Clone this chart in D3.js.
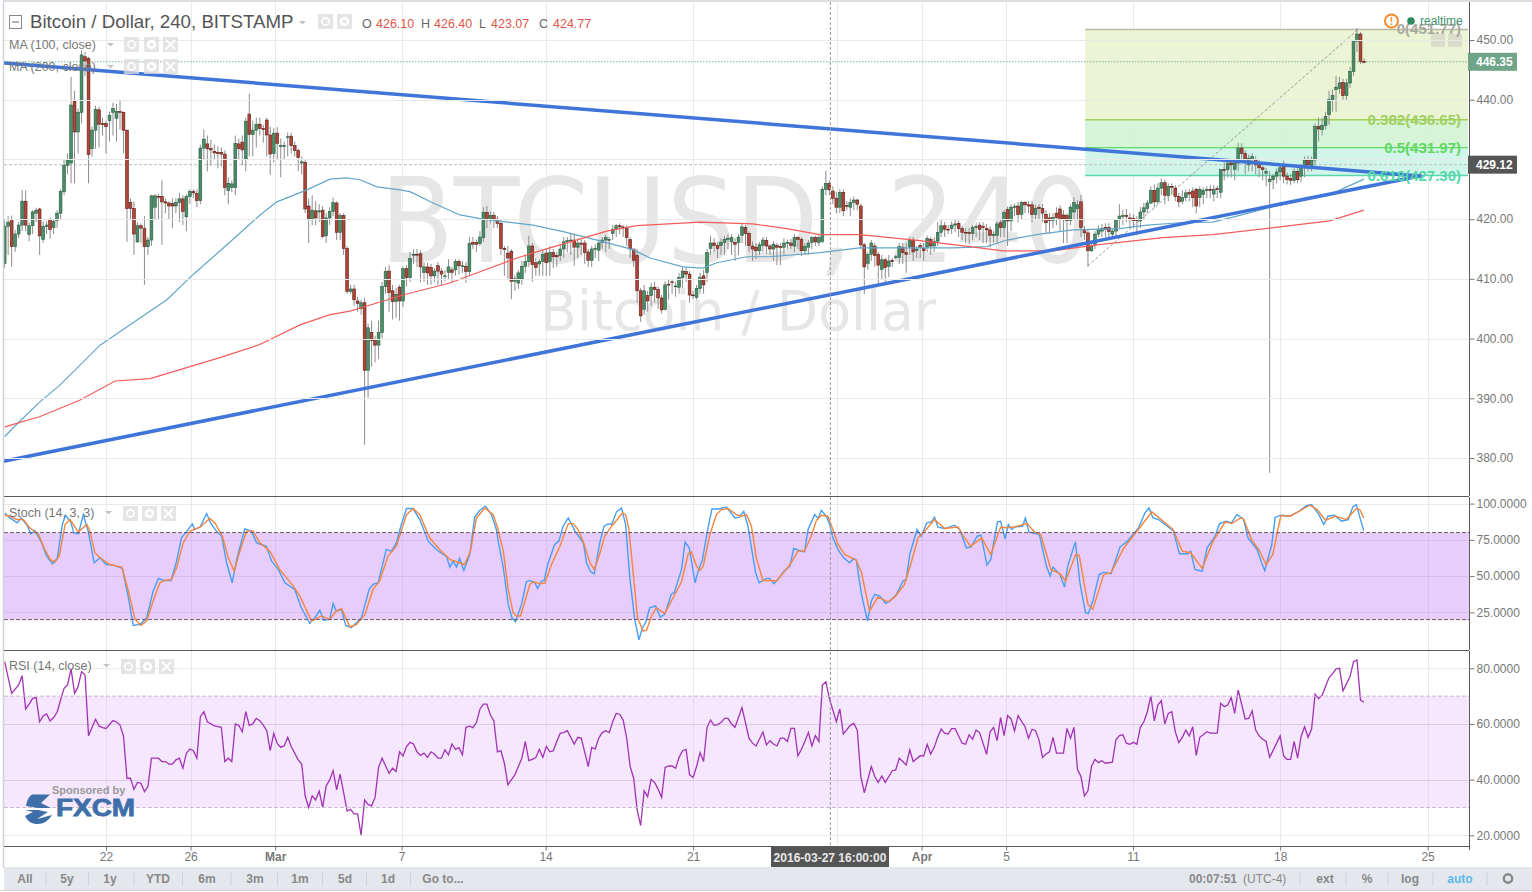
<!DOCTYPE html>
<html><head><meta charset="utf-8">
<style>html,body{margin:0;padding:0;background:#fff;overflow:hidden}svg{display:block}text{font-family:"Liberation Sans",Arial,sans-serif}</style>
<script src="https://cdn.jsdelivr.net/npm/d3@7/dist/d3.min.js"></script></head><body><svg id="c" width="1532" height="892"></svg>
<script>
const opens=[412.6,418.8,419.9,415.4,417.5,419.0,423.0,417.4,418.9,421.0,421.7,416.6,418.8,419.9,418.6,419.8,421.0,424.6,429.0,429.4,439.7,434.6,437.9,447.2,446.9,431.8,434.9,438.3,436.0,436.0,436.5,437.9,436.9,438.0,437.9,434.9,422.8,421.8,416.2,418.9,418.4,415.4,416.5,422.0,423.8,423.8,422.9,422.7,422.6,422.2,422.8,423.4,420.4,423.8,424.6,424.3,423.1,431.9,432.6,431.8,431.3,431.2,431.2,430.9,424.8,425.3,425.3,432.6,432.9,430.1,437.6,434.2,434.9,435.9,435.2,436.6,434.1,431.0,434.4,432.2,432.2,433.7,433.9,432.3,431.5,429.4,429.5,422.2,420.0,421.4,421.2,421.5,417.2,420.2,421.3,422.7,417.8,420.6,415.1,407.9,408.3,
406.3,405.0,406.0,394.7,401.0,399.7,398.9,401.0,408.7,411.3,408.0,406.2,408.6,406.3,411.7,410.2,414.0,414.1,414.2,411.1,412.0,411.9,410.5,412.2,411.3,410.4,411.1,411.5,411.5,412.9,412.1,412.1,411.2,416.1,416.1,415.9,416.9,421.1,420.1,420.6,420.0,419.3,415.1,414.3,414.6,409.6,409.3,410.0,412.1,412.9,415.5,412.7,412.5,412.9,414.3,412.9,414.4,413.9,413.9,415.0,416.2,416.4,416.5,415.3,416.0,416.0,414.5,413.1,415.0,414.8,416.1,416.5,416.6,417.6,418.3,418.9,418.7,418.4,416.6,415.0,413.9,408.0,404.9,407.2,407.2,408.6,408.2,406.8,404.9,409.1,409.5,408.7,408.6,410.2,411.2,410.8,407.3,406.9,408.4,410.5,411.1,415.1,416.0,415.6,415.6,416.1,416.6,416.2,416.1,416.1,417.3,418.6,417.6,
415.5,415.3,414.7,415.6,416.4,415.5,415.0,415.6,415.4,415.3,416.0,416.0,415.5,416.9,416.6,414.7,415.3,416.1,416.9,416.1,416.3,425.0,426.0,424.7,423.5,422.0,424.5,422.3,422.0,422.8,423.2,422.2,415.7,412.6,414.1,415.5,414.1,411.6,413.2,412.1,413.1,413.7,413.6,415.3,414.4,415.4,416.5,414.7,415.6,415.1,415.3,416.6,415.5,416.3,417.8,418.9,418.3,418.4,419.0,419.3,418.4,417.8,417.8,417.6,418.6,419.0,418.8,418.4,418.2,417.3,417.3,419.4,418.6,421.6,419.7,422.0,422.2,420.8,422.8,422.4,422.4,420.8,422.0,421.8,420.8,420.2,419.8,421.0,421.7,420.7,420.6,419.8,421.2,421.8,422.9,
418.3,417.7,414.7,415.8,417.5,418.0,418.6,418.6,417.5,418.0,419.9,420.5,420.6,420.2,420.1,419.9,419.7,421.2,421.8,422.7,424.8,422.9,425.2,426.1,424.0,425.5,425.2,423.8,423.0,423.6,424.5,424.7,425.0,423.6,424.1,424.8,425.0,424.2,425.1,424.5,428.3,428.3,429.4,428.3,429.4,431.9,431.0,429.1,430.0,430.0,429.1,428.6,427.7,426.3,426.6,427.2,427.9,428.9,427.2,426.8,426.5,428.0,427.2,428.6,429.9,429.0,429.9,435.5,435.0,435.7,437.5,440.0,441.7,441.9,442.9,440.7,442.8,444.7,449.8,451.0,446.4];
const closes=[418.8,419.5,415.4,417.5,419.0,423.0,419.0,418.9,421.2,421.5,417.2,418.8,419.0,418.3,419.6,421.0,424.6,429.0,429.9,439.1,434.6,437.9,447.5,446.5,430.8,434.9,438.4,435.9,435.9,435.5,437.4,438.5,438.0,437.9,434.9,421.8,421.8,417.5,418.9,418.5,415.4,416.5,423.9,423.9,423.7,422.9,422.7,422.2,422.2,422.8,423.4,421.3,423.8,424.6,424.4,423.1,431.9,433.4,431.8,431.6,431.1,431.0,430.9,425.3,426.0,425.9,432.7,431.8,431.6,436.4,434.2,434.9,435.9,435.2,435.0,434.1,430.9,434.4,432.7,432.3,432.3,433.8,432.3,431.5,430.3,429.6,421.7,420.0,421.5,420.2,421.4,417.1,420.2,421.3,422.8,417.8,420.6,415.1,407.9,408.3,406.5,
405.9,406.0,394.7,401.8,399.7,398.9,401.0,408.7,411.2,407.7,406.2,407.4,406.3,411.7,410.2,413.4,414.1,414.0,412.0,412.0,411.0,410.5,411.3,411.3,410.8,410.5,412.0,411.1,412.9,412.2,412.2,411.2,415.9,415.8,415.8,417.0,421.1,420.1,420.6,420.0,419.3,415.1,414.9,413.5,409.6,410.0,411.0,412.1,412.9,415.5,412.4,411.9,412.9,414.1,412.7,414.4,413.7,413.7,415.0,416.2,416.4,416.5,415.3,416.0,415.8,414.4,413.1,415.0,415.1,416.0,416.5,416.9,416.6,418.3,418.9,418.7,418.6,416.9,415.0,413.1,408.0,403.8,408.0,406.3,408.6,408.2,406.8,404.8,409.0,409.0,409.4,408.8,410.2,411.3,410.8,407.3,407.2,408.4,410.2,409.0,414.4,416.0,415.6,415.1,416.1,416.6,416.8,416.9,415.8,417.0,418.7,417.6,415.6,
415.0,414.7,415.7,416.5,415.5,415.0,415.8,415.3,415.3,416.0,416.1,415.6,416.9,416.6,414.7,415.4,416.0,416.9,416.2,416.9,425.0,426.0,424.9,423.5,422.0,424.5,421.4,422.2,422.8,423.2,422.5,415.7,412.0,414.1,416.0,413.9,412.3,413.2,411.9,413.0,412.9,413.7,415.4,414.4,414.1,416.5,414.5,415.0,415.3,414.7,416.8,415.5,416.3,417.8,418.9,418.3,418.2,419.0,419.2,418.4,417.8,417.7,417.6,418.6,418.8,418.3,418.6,418.2,417.3,417.4,419.2,418.6,421.1,419.7,422.0,422.1,420.8,422.8,422.4,422.2,420.8,421.8,421.8,421.0,419.4,419.8,420.3,420.3,420.0,420.0,419.8,422.0,422.8,422.4,418.6,
417.7,414.7,415.4,417.5,418.3,418.4,418.3,417.9,418.0,419.9,420.5,420.6,420.5,419.9,419.8,419.8,421.2,421.9,422.7,424.8,422.9,425.2,426.1,424.0,425.5,425.3,423.8,422.9,423.6,424.4,424.2,423.6,422.2,425.0,424.8,425.0,424.8,425.0,425.0,428.3,428.2,429.4,429.1,429.4,431.9,431.0,430.0,430.2,430.5,429.1,428.6,428.3,428.0,426.7,427.2,427.9,428.6,427.2,426.6,426.5,428.0,426.6,428.6,429.9,429.1,429.9,435.5,435.1,435.7,437.2,440.0,440.7,442.1,442.8,440.7,442.8,444.7,449.8,451.0,446.4,446.35];
const highs=[420,420.5,420.6,418.2,419.5,424.9,424.8,419.5,421.5,421.9,421.9,419.6,419.6,420.3,420,421.5,425,430,431,443.8,441.5,438.5,448.3,448,447.2,435.5,439,438.8,437,436.5,438,439.5,439.3,440,438,435,423.5,423,419.5,419.3,420.5,417,424,424.2,424.2,426.5,423.5,423,423.5,423.5,424.4,424,424.2,425,425,425,432.5,435,434,433.3,432.5,432.2,432,431.5,427,426.5,434,433.5,434,437,441,436.5,437,437,435.8,437,435.5,435.3,435.4,433.5,433,434.5,434.5,433,431.8,430.5,430,423.5,424,423,422.5,422.2,421,422,423.6,423,421,421,415.5,409,409,
407,406.5,406.8,402.5,403,400.5,403,409.5,412,412.3,409,408.5,409,412,412.3,414.5,415,415,414.8,412.8,412.7,412.5,411.8,412.8,411.8,411.5,413.3,412,413.3,413.3,413,412.8,417,417,416.6,418,422,422.2,421.3,421.2,420.5,420,415.5,415.5,415,410.6,411.5,413,414,417.2,416,413.5,413.3,414.8,415,415.5,415,414.5,415.7,417,417,417.5,417.6,416.8,416.6,416.5,415,415.5,415.8,416.6,417,417.4,417,419,419.2,419.3,419,419,417,415,415,408.5,409,408,409.3,409.5,408.7,407.3,409.6,410,410,409.5,411,412,412,411.3,408,409,411,411.5,415,417.2,416.8,416.2,416.8,417.2,417.5,417.5,416.8,417.5,419.2,419,418,
416.3,416,416.2,417,417,415.8,416.3,416,416,416.8,416.6,416.7,417.5,417.2,417,416,416.5,417.2,417.2,417.3,425.5,428.1,426.5,425.5,424.5,425,425,423,423.5,423.8,423.4,422.6,416,414.5,416.5,416,414.5,414,413.5,414,413.5,414,416,416,416,417,417,415.5,416,416,417.2,417,417,419.5,420,419.5,419,419.6,419.9,419.8,418.9,418.5,418.5,419,419.3,419.5,419.5,419.2,418.8,418,419.7,420,421.5,422.1,422.5,422.6,422.9,423,423,423,423,422.4,422.5,422.5,421.5,421,421,422,422.3,421.5,421,422.5,423.7,423.2,424,
418.8,418.2,416,418,419,419.2,419.3,419.3,418.5,420,422.5,421.5,421.7,421,420.8,420.5,422,422.7,423.2,425.5,425.8,426,426.8,426.6,426,426,425.7,424.4,424.8,425,425,425.3,425.3,425.5,425.3,425.5,425.7,425.7,425.6,425,429.5,429.8,430,430,432.8,432.7,431.5,430.8,431,430.5,430,429,428.6,428,427.5,428.5,429,429.8,427.8,427.5,428.5,428.5,429,430.5,430.6,430.5,436,437,437,438,441.5,441.7,444,443.8,443.5,443.5,445.5,450,452,451.3,446.9];
const lows=[411.8,414,412,414.5,416.8,418,418,416.3,417.5,419.5,414,416,417.5,416.7,417.5,418.5,420,424,427.5,426,426,431,436,444,426,430.5,431.8,432,434,431,433,434,433,435,431,416.2,420,414,416,416,409,414,415.5,420,420,415.7,421,420,418.5,421,419.5,419,418,422.5,423.5,422,422.5,430,428,429,430,428.5,428.8,424,422.5,424.5,424,430,429,428,430.5,430.5,432,434,432.8,430.5,427.4,429.5,430,427,430,430.5,431,430.5,428,427.5,421,416,419,419,419.5,416.8,416,419,420.5,416.5,416.5,414,407.5,407.5,405.5,
404.5,404,382.2,390.1,395.3,396,396.6,400,407.5,404.5,403.2,403.5,403,405.3,408.7,409.5,412.5,412,409.4,409.5,409,409,409.5,409,409,409.6,410,409.5,410.5,410.7,411,409.3,410.5,415,414.5,415.5,416.2,418.5,419.3,418.5,418.5,414,410.5,410,406.6,408,408.3,409,411,412,409.5,410.5,410.5,410.5,410.5,410.5,411.8,412,413,413.5,414.5,414,412.2,413.5,414,412.5,412,412,413.5,413,415,414.5,415,416.5,417,417.5,417,415.5,413.5,412,406,402.8,404,404.5,405.5,406,405,404.2,404.7,406.5,407.5,407,407.5,408.5,409.5,406,406.6,406.5,407.5,407.5,409.5,414,414.5,413.5,414,414,415,414,413,414,416,415.5,414.5,
413,413.3,414,414.5,414.2,414,413,412.3,412.3,414,415,415,414.5,415,413.8,414,414,415,415.5,415.5,416,424,424,422.5,421,421,420.5,421.5,420.5,421.5,421.5,415,407.4,411.5,413,412,409,410,409.5,410.3,412,413.3,412.5,412.5,411,414,413,413.5,413.5,413,414.5,414,414.5,415.5,417,417,417.5,417.5,417.8,417,416.5,416,415.8,416.5,417,416.5,416,416,415.3,416,416,417,417,415.5,418,420.5,419.5,420,421,421,419.5,420,420,419.5,417.5,417.5,418.5,419,418,416,416,419,420,420,417,
416.5,412,414.5,415,417,417,417,416.5,416.7,417,418.5,419,419.5,418.5,418.5,417.3,418.5,420,421,422.5,422,422.5,424,422.5,423,424,423,422,422.5,423,423,422,421,422,422.5,423.5,423.5,423,423.5,423.5,426.5,427,427,426.5,428,429.5,427.5,428,428,427.5,427,426.5,425.5,377.5,425,426,426.5,426,425.8,425.7,426,426,426.2,427,428,428,429,433,434,435,435.8,438,438,441,440,440,442,444,448,446,446.1];

const ma100Idx=[0,4.4,10.1,15.8,27.3,35.9,46.4,53.9,63.6,73.1,77.9,86.5,93.1,97.9,101.7,106.5,113.1,116,122.6,130.3,136.9,151.2,159.8,169.5,179.8,184.7,194.1,199.8,203.8,212.4,219,233.3,244.7,256.1,271.3,281.1,286.8,296.2,305.7,319.1,326.9,336.3,345.7,352.6,364.9,379.2,384.1,389];
const ma100Val=[383.6,386.2,389.4,392.2,398.9,402.3,406.5,410.7,415.7,420.7,422.9,424.9,426.7,426.9,426.6,425.4,424.9,424.6,422.7,420.7,420,419,417.9,416.5,414.9,413.5,412,411.8,412.7,413.7,413.7,414.4,415.2,415.2,415.2,415.4,416.5,417.5,418.2,418.4,419,419.4,419.5,420.5,422.4,424.1,425.4,426.7];
const ma200Idx=[0,10,21.6,31.6,41.6,50.2,61.6,73,84.5,93.1,98.8,103.9,114,127.4,146.6,156,172.3,180.9,199,214.1,223.8,233.3,244.7,261.9,276.2,285.7,300,312.6,331.4,345.7,364.9,379.2,389];
const ma200Val=[385.2,386.9,389.7,392.9,393.3,394.8,396.8,399,402.3,404,404.6,405.5,407.3,409.3,413.5,415.2,418,418.9,419.5,419.2,418.4,417.4,417.4,416.4,415.4,414.7,414.7,415.7,416.9,417.4,418.7,419.7,421.5];

const kIdx=[0,1.5,3.6,4.7,6.3,7.5,8.7,10.6,12,13.7,15.1,16.5,17.4,18.9,19.8,21.1,22.5,23.9,24.9,25.6,27.3,29,31.1,33.7,35.4,36.8,38.7,40.6,42.5,44,45.4,47.6,49.2,50.6,52,53.7,54.4,55.9,57.8,58.9,60.6,62.1,63.5,65.1,66.5,68.7,70.6,72.1,74.9,76.4,78.3,80.2,83,84.9,87.3,88.8,90.2,91.3,93,94,94.9,96.4,97.6,99.2,102.1,104.3,105.4,106.9,109.2,110.7,112.1,113.5,115,116.9,118.8,121.2,123.5,125.5,126.4,127.4,128.3,129.3,130.2,131.4,133.1,134.5,135.9,137.6,139.3,140.7,141.4,142.7,144.1,145.2,146.2,147.9,149.3,150.3,151.7,152.5,153.6,154.4,155.4,157.4,158.6,159.8,161.3,163.2,165.6,166.5,167.7,168.7,170.3,171.5,172.7,173.7,175.1,176.5,177.7,178.9,180.3,181.5,182.5,183.4,184.6,186.3,187.6,188.9,190.8,191.6,193.7,194.7,195.9,197.6,198.6,199.7,201,202.4,204.2,206.5,209,210.2,211.5,212.7,214.9,215.9,218,218.9,220.1,221.3,223.2,224.7,225.8,227.3,228.9,229.9,231.8,232.8,233.7,235.1,236.1,237,238.5,240.1,241.8,243,243.7,245.2,246.9,248,249,250.4,252.1,253.4,255.2,257.1,258,259,261.1,262.3,263.9,265.2,266.1,267.1,269,271.8,273.3,275.2,276.6,278.3,279.4,281.1,282.2,284.1,285,286.3,287.2,288.2,289,291.3,292.1,293.1,296.1,298.1,299.2,300,302,303.3,304.2,306.4,307.7,309.3,310.1,311.4,313.2,314.5,316.6,319.2,321.3,324.5,326.3,327.5,328.6,330.2,334.4,336.2,338.5,339.4,340.6,342.7,344.1,346.4,347.6,349.5,351.1,352.6,354.5,355.8,358.4,359.7,360.6,362.6,363.6,365.2,367.8,370.4,372.5,374,376.1,377.5,378.7,380.5,382.6,384.5,385.8,386.8,387.6,388.9];
const kVal=[93.6,90.1,86.7,90.1,85.6,79.1,81.4,72.9,63.8,58.5,62.6,85.6,92,87.4,79.8,79.1,92.4,81,68.3,59.2,62.6,58,57.6,55.3,35.1,16,16.7,20.9,39.7,48.4,47,47,60.3,76.4,80.5,86,82.1,83.9,93.1,86.7,81,77.5,59.2,45.4,62.6,82.6,81,72.9,70.6,60.3,54.6,45.4,40.8,28.2,17.4,21.3,26.4,19.5,20.2,31,25.9,27.1,16,14.4,21.3,40.8,44.3,45.4,68.3,67.2,72.9,85.6,96.6,96.6,89,74.1,68.3,64.9,63.8,56.2,60.3,56.2,62.2,53.9,64.9,90.6,95.2,98.2,92.4,82.1,71.8,55.7,30.5,20.9,18.6,30.5,46.1,47,45.4,41.5,46.6,47,58,71.8,74.1,84.4,90.1,81,72.9,59.2,53,51.6,72.9,84.4,86,85.6,94.3,97,85.6,48.8,20.2,6,14.4,17.9,28.2,29.4,21.8,23.6,37.8,38.5,54.6,73.4,69.5,45.4,54.6,61.5,79.8,96.3,96.3,97.7,90.1,90.6,94.7,84.4,52.3,45.4,48.4,48.4,44.7,47.7,53.9,56.9,69,67.7,66.7,82.1,92.4,89.7,95.4,91.3,85.6,76.4,68.3,62.6,59.2,62.2,61,37.4,19,32.8,37.4,36.2,31.2,32.8,37.4,46.6,47.7,64.9,82.1,77.5,86.7,87.4,90.6,83.7,82.8,85.1,82.1,69.5,70.2,77.5,78.2,57.6,61.5,87.4,87.8,75.7,85.6,82.1,83.9,84.4,90.1,80.5,78.7,56.9,50,56.2,51.1,42.4,56.9,73.6,45.4,24.8,24.1,32.8,51.1,52.7,51.6,70.2,74.1,83.3,93.6,97,90.1,89,81.4,65.4,65.4,67.2,54.6,53.4,69.5,77.5,86,87.8,86.7,92.4,89.5,76.4,68.3,59.2,53.9,71.8,90.6,92,91.3,94.7,98.6,99.3,92.4,85.6,91.3,92,87.8,89,97.7,99.3,92.4,81.4];
const dIdx=[0,1.5,3.4,5.3,7.2,9.6,11.5,13,14.4,15.6,17.3,18.7,21.1,23.5,24.4,25.8,27.3,30.1,33.5,35.4,37.3,39,40.6,42.5,44.4,45.9,47.8,49.2,51.1,53,55.9,58.7,60.2,62.3,64,65.7,67.3,69.2,71.1,73,75.9,78.7,82.6,84.5,87.8,90.7,93,94.9,96.4,98.8,100.7,103.1,105.4,107.3,109.7,112.1,115,116.9,118.8,121.6,124.5,127.4,130.2,131.6,133.3,135,137.4,139.8,141.2,142.7,144.1,145.5,146.5,147.6,148.9,150.3,151.3,153.2,154.6,156.5,158.9,161.3,162.7,164.1,165.7,167.5,168.7,170.1,171.7,173.7,175.3,176.8,177.7,178.6,179.9,181.1,182.7,183.7,185.1,186.5,188.9,190.8,193.7,195.6,196.5,198,198.9,199.9,201.8,203.7,205.1,207,209.4,210.8,212.3,213.7,215.1,217,218.9,220.8,223.7,225.1,227,228.9,230.8,232.3,233.7,235.6,237,238.5,240.4,243.7,245.2,247.5,249.9,252.8,254.7,257.5,259.4,261.4,263.7,266.1,269,272.8,274.7,276.4,279.6,282.2,285,286.7,289,292.6,294.7,296.5,299.4,302,303.6,306.5,307.5,308.8,310,311.4,314.5,316.6,320.3,324.4,328.3,334.4,337,339.4,342.7,345.8,349.3,351.1,353.7,354.5,356.8,358.9,361,362.9,365.2,367.8,370.9,373.5,375.6,378,380.8,384,386.8,387.8,388.9];
const dVal=[92,91.3,89,89,83.3,79.1,68.3,61.5,59.6,63.8,85.6,89,80.5,85.6,81,66.1,62.6,58,56.2,39.7,20.2,16,19,32.8,45.4,47,47.7,55.7,72.9,81,83.7,89.7,86.7,77.5,62.6,53.4,67.2,81,81,72.9,67.2,54.6,43.1,36.2,19,22.5,20.2,25.9,27.7,14.9,16.7,23.6,40.8,46.6,63.8,70.6,92.4,96.6,92.4,76.4,68.3,61.5,59.2,58,67.2,90.1,97,92.4,82.1,67.2,40.8,24.8,22.5,22.5,32.8,44.3,46.1,44.7,45.2,58,70.6,86.2,86.2,82.1,72.9,59.2,54.6,63.8,77.5,84.4,89,93.6,92.4,83.3,51.1,21.3,12.1,12.6,22.5,28.2,24.3,32.8,46.1,65.4,66.7,56.9,53.9,56.9,78.7,92.4,95.9,96.6,92.4,91.3,92.4,84.4,62.6,47,47,46.6,54.6,59.2,67.2,67.2,77.5,88.5,92,91.3,82.1,71.8,64.9,61,52.3,25.9,35.5,32.3,35.5,44.3,59.2,76.4,82.1,89,82.8,83.9,76.4,70.6,76.4,64.9,83.7,83.3,83.9,86.2,80.5,78.7,54.6,51.6,46.6,64.9,64.4,46.6,30.5,27.1,51.1,52.3,69.5,82.1,94.3,82.1,67.2,66.1,55.3,74.1,87.4,86.2,90.1,89.7,75.2,68.3,58,64.9,91.7,91.3,95.4,98.9,95.9,88.5,91.3,89,96.6,95.9,90.1];

const rsiIdx=[0,2,4,5,6,7,8,9,10,11,12,13,14,15,16,17,18,19,20,21,22,23,24,26,27,28,29,31,32,33,34,35,36,37,38,39,40,41,42,44,45,46,47,48,49,50,51,52,53,54,55,56,57,58,60,62,63,64,65,66,67,68,69,70,71,72,73,74,75,76,77,78,79,80,81,82,84,85,86,87,88,89,90,91,92,93,94,95,96,98,99,100,101,102,103,104,105,106,107,108,110,111,112,113,114,115,116,117,118,119,120,121,122,123,124,125,126,127,128,129,130,131,132,133,134,135,136,137,138,139,140,141,142,143,144,145,146,147,148,149,150,151,152,153,154,155,156,157,158,159,160,161,163,164,165,167,168,169,170,171,172,173,174,175,176,177,178,179,180,181,182,183,184,185,186,187,188,189,190,191,192,193,194,195,196,197,198,199,200,201,202,203,204,205,206,207,208,209,211,213,214,215,217,218,219,220,221,222,223,224,225,226,227,228,229,230,231,232,233,234,235,236,238,239,240,242,243,244,245,246,248,249,250,251,252,254,255,256,258,259,260,262,263,264,265,266,267,268,269,270,271,272,273,274,275,276,277,278,279,281,282,283,284,285,286,287,288,289,290,292,293,294,295,296,297,298,299,300,301,303,304,305,306,307,308,309,310,311,312,313,314,315,317,318,319,320,321,322,323,324,325,326,327,328,329,330,331,332,333,334,335,336,337,338,339,340,341,342,343,344,345,347,348,349,350,351,352,353,355,356,357,358,359,360,361,362,365,366,367,368,369,370,371,372,373,374,375,376,377,379,380,381,382,383,385,386,387,388,389];
const rsiVal=[82.4,71,74,77.3,65.4,67.1,69.2,69.5,60.8,62.9,63.6,61.1,62.3,64.2,68.6,72.8,74,79.8,71,73.4,78.8,77.6,55.8,61.7,59.3,58.7,58.4,61.2,60.7,59.6,55.7,40.5,40.5,36.5,39,38.7,35.7,37.5,47.7,47.7,46.5,46.5,45.6,45.6,47.1,47.7,44.1,49.5,51,50.4,47.7,62.6,64.4,60.8,59.3,58.8,46.5,47.7,46.5,60,59.5,57.2,64.4,59.5,60,62,61.2,59.6,57.6,50.4,56.6,53,51.6,52.2,55.2,51.9,47.1,45.6,34.1,30,34.2,32.7,35.9,30,37.7,39.9,43.2,36.3,42,28.7,29.3,27.7,27.7,20.1,32.7,31.1,30.6,33.6,44.4,47.7,42.3,44.1,42.9,50,48.5,51.9,53.4,52.8,50,48.7,49.5,48,50,49.2,47.7,47.7,50.7,48.9,52.8,50.9,51.5,48.9,58.8,59.2,58.7,60.5,65.3,67.1,67.1,63.2,61.1,50,50.4,45.9,38.1,39.9,41.7,44.7,47.7,53.7,46.8,47.3,47.9,50.9,48,51.9,50,50.4,53.7,56.7,56.9,57.6,52.8,55.2,54.9,44.7,51.6,51,54.9,56.9,57.6,56.9,60.8,63.8,63.5,61.4,54.9,44.7,40.5,29.1,23.5,36,33.9,40.1,39,36.6,33.6,44.4,44.9,44.9,44.1,48,50.4,50.9,41.7,40.8,44.7,49.7,46.5,58.8,61.4,59.5,59.8,60.5,62,62,60,58.8,65.9,54.9,53.1,52.1,57.1,52.5,54,52.8,52.1,54.9,54.9,53.7,58.4,58.4,48.5,50.9,53.7,57,52.1,55.8,53.7,74,75.2,69.2,60.8,65.4,56.4,59.5,60.2,57.8,41.1,35.3,44.7,41.1,39,41.3,39,43.2,43.5,47.7,45.3,50.7,46.5,48.6,48.5,52.7,49.2,51.6,55.2,58.2,56.7,56.4,58.3,58.3,55.7,53.1,52.7,56.1,54.5,57.8,56.9,49.1,57.2,58.8,54,62.3,55.8,63,61.8,57.5,63,59,54.9,58.1,57.6,54.3,48,49.2,50,55.2,49.5,49.5,58.4,54.9,58.8,43.7,41.1,34.1,36,44.7,47.3,46.1,46.8,45.9,46.3,54.3,55.8,56.1,53.1,52.7,53.4,52.7,58.8,60.8,64.4,70.1,61.1,66.8,68.4,60,63.8,64.4,57.2,53.3,55.2,57.8,55.7,59,48.7,55.2,56.1,57.2,56.7,56.7,67.4,66.2,66.8,69.5,63.8,72.2,61.8,62,64.7,57.8,55.7,54.5,53.7,48,55.7,48.5,47.3,47.3,53.7,47.7,55.5,59,55.2,58.2,70.7,69.1,70.3,76.7,78,79.8,80,71.9,77,82.4,83,68.6,67.8];

const priceTicks=[380,390,400,410,420,430,440,450];
const stochTicks=[25,50,75,100];
const rsiTicks=[20,40,60,80];
const dayIdx=[29,53.2,77.4,113.6,154.8,197,262.4,286.6,322.9,365,407.2];
const dayLabels=["22","26","Mar","7","14","21","Apr","5","11","18","25"];
const extraGridIdx=[238.2];
const crossIdx=236.3, crossLabel="2016-03-27 16:00:00";
const fibLevels=[451.77,436.65,431.97,427.30];
const fibNames=["0(451.77)","0.382(436.65)","0.5(431.97)","0.618(427.30)"];
const fibLineCol=["#b9b9a4","#a3cf55","#62dc62","#58d8a8"];
const fibTextCol=["#a9a9a0","#a0d060","#62d862","#55d8a8"];
const fibFill=["#e9f3d0","#d2f3d4","#cdf4e8"];
const fibSwing=[[310,412.2],[387.3,451.77]];
const trendUpper=[[0,446.15],[405,427.24]];
const trendLower=[[0,379.5],[405,427.24]];
const lastPrice=446.35, prevClose=429.12;
const ohlcLetters=["O","H","L","C"];
const ohlcValues=["426.10","426.40","423.07","424.77"];
const leftButtons=["All","5y","1y","YTD","6m","3m","1m","5d","1d","Go to..."];

const svg=d3.select("#c");
const RIGHT=1469;
const x=d3.scaleLinear().domain([0,389]).range([4.67,1364]);
const yP=d3.scaleLinear().domain([380,450]).range([458,40]);
const yS=d3.scaleLinear().domain([20,100]).range([619.6,503.6]);
const yR=d3.scaleLinear().domain([20,80]).range([835.3,668.3]);
const defs=svg.append("defs");
defs.append("clipPath").attr("id","pm").append("rect").attr("x",4).attr("y",2).attr("width",RIGHT-4).attr("height",494);
const GRID="#e9e9e9";

// vertical grid
const gv=svg.append("g").attr("stroke",GRID).attr("stroke-width",1);
[...dayIdx,...extraGridIdx].forEach(d=>{[[2,496],[497,650],[651,846]].forEach(s=>{
  gv.append("line").attr("x1",Math.round(x(d))+.5).attr("x2",Math.round(x(d))+.5).attr("y1",s[0]).attr("y2",s[1]);});});

// watermark
const main=svg.append("g").attr("clip-path","url(#pm)");
main.append("text").text("BTCUSD, 240").attr("x",380).attr("y",262).attr("font-size",118).attr("textLength",712).attr("lengthAdjust","spacingAndGlyphs").style("font-family","'DejaVu Sans'").attr("fill","#e6e6e6");
main.append("text").text("Bitcoin / Dollar").attr("x",540).attr("y",330).attr("font-size",56).attr("textLength",396).attr("lengthAdjust","spacingAndGlyphs").style("font-family","'DejaVu Sans'").attr("fill","#e6e6e6");

// horizontal grid
priceTicks.forEach(v=>svg.append("line").attr("x1",4).attr("x2",RIGHT).attr("y1",Math.round(yP(v))+.5).attr("y2",Math.round(yP(v))+.5).attr("stroke",GRID));

// fib
const fibG=main.append("g");
const fx0=x(309.2), fx1=1468;
fibFill.forEach((c,i)=>fibG.append("rect").attr("x",fx0).attr("width",fx1-fx0).attr("y",yP(fibLevels[i])).attr("height",yP(fibLevels[i+1])-yP(fibLevels[i])).attr("fill",c).attr("opacity",.92));
priceTicks.forEach(v=>{if(v>428)fibG.append("line").attr("x1",fx0).attr("x2",fx1).attr("y1",Math.round(yP(v))+.5).attr("y2",Math.round(yP(v))+.5).attr("stroke","#000").attr("stroke-opacity",.05);});
fibLevels.forEach((v,i)=>fibG.append("line").attr("x1",fx0).attr("x2",fx1).attr("y1",yP(v)).attr("y2",yP(v)).attr("stroke",fibLineCol[i]).attr("stroke-width",i?1.4:1.5));
main.append("line").attr("x1",x(fibSwing[0][0])).attr("y1",yP(fibSwing[0][1])).attr("x2",x(fibSwing[1][0])).attr("y2",yP(fibSwing[1][1])).attr("stroke","#9a9a9a").attr("stroke-width",1).attr("stroke-dasharray","3 2");

// reference lines
main.append("line").attr("x1",4).attr("x2",RIGHT).attr("y1",yP(prevClose)).attr("y2",yP(prevClose)).attr("stroke","#bdbdbd").attr("stroke-dasharray","3 2");
main.append("line").attr("x1",4).attr("x2",RIGHT).attr("y1",yP(lastPrice)).attr("y2",yP(lastPrice)).attr("stroke","#7fae93").attr("stroke-dasharray","1.5 1.5");

// candles
const idx=d3.range(opens.length);
main.append("g").selectAll("line").data(idx).join("line")
 .attr("x1",i=>x(i)).attr("x2",i=>x(i)).attr("y1",i=>yP(highs[i])).attr("y2",i=>yP(lows[i])).attr("stroke","#8d8d8d").attr("stroke-width",1);
main.append("g").selectAll("rect").data(idx).join("rect")
 .attr("x",i=>x(i)-1.4).attr("width",2.8)
 .attr("y",i=>yP(Math.max(opens[i],closes[i])))
 .attr("height",i=>Math.max(.8,Math.abs(yP(opens[i])-yP(closes[i]))))
 .attr("fill",i=>closes[i]>=opens[i]?"#4d8c68":"#b0463a")
 .attr("stroke",i=>closes[i]>=opens[i]?"#245e40":"#5e1c12").attr("stroke-width",.6);

// moving averages
const ln=(xs,ys,sy)=>d3.line().x((d,i)=>x(xs[i])).y((d,i)=>sy(ys[i]))(ys);
main.append("path").attr("d",ln(ma100Idx,ma100Val,yP)).attr("fill","none").attr("stroke","#64a6c9").attr("stroke-width",1.2);
main.append("path").attr("d",ln(ma200Idx,ma200Val,yP)).attr("fill","none").attr("stroke","#f45b5b").attr("stroke-width",1.2);

// trend lines
[trendUpper,trendLower].forEach(t=>main.append("line").attr("x1",x(t[0][0])).attr("y1",yP(t[0][1])).attr("x2",x(t[1][0])).attr("y2",yP(t[1][1])).attr("stroke","#3f74d8").attr("stroke-width",3.5).attr("stroke-linecap","round"));

// fib labels and faded controls
[1431,1448].forEach(v=>main.append("rect").attr("x",v).attr("y",34).attr("width",14).attr("height",13).attr("fill","#cfcfc4").attr("opacity",.6));
fibLevels.forEach((v,i)=>main.append("text").text(fibNames[i]).attr("x",1461).attr("y",yP(v)+5).attr("text-anchor","end").attr("font-size",15).attr("font-weight","bold").attr("fill",fibTextCol[i]));

// stoch pane
const gS=svg.append("g");
gS.append("rect").attr("x",4).attr("width",RIGHT-4).attr("y",yS(80)).attr("height",yS(20)-yS(80)).attr("fill","#e8ccfb");
stochTicks.forEach(v=>gS.append("line").attr("x1",4).attr("x2",RIGHT).attr("y1",Math.round(yS(v))+.5).attr("y2",Math.round(yS(v))+.5).attr("stroke",v===100?GRID:"#7a5a90").attr("stroke-opacity",v===100?1:.14));
[...dayIdx,...extraGridIdx].forEach(d=>gS.append("line").attr("x1",Math.round(x(d))+.5).attr("x2",Math.round(x(d))+.5).attr("y1",yS(80)).attr("y2",yS(20)).attr("stroke","#7a5a90").attr("stroke-opacity",.09));
gS.append("path").attr("d",ln(kIdx,kVal,yS)).attr("fill","none").attr("stroke","#45a0f5").attr("stroke-width",1.4);
gS.append("path").attr("d",ln(dIdx,dVal,yS)).attr("fill","none").attr("stroke","#f5843c").attr("stroke-width",1.4);
[80,20].forEach(v=>gS.append("line").attr("x1",4).attr("x2",RIGHT).attr("y1",yS(v)).attr("y2",yS(v)).attr("stroke","#6e5a70").attr("stroke-dasharray","4 2"));

// rsi pane
const gR=svg.append("g");
gR.append("rect").attr("x",4).attr("width",RIGHT-4).attr("y",yR(70)).attr("height",yR(30)-yR(70)).attr("fill","#f5e7fd");
rsiTicks.forEach(v=>gR.append("line").attr("x1",4).attr("x2",RIGHT).attr("y1",Math.round(yR(v))+.5).attr("y2",Math.round(yR(v))+.5).attr("stroke",v>30&&v<70?"#dccbe6":GRID));
[...dayIdx,...extraGridIdx].forEach(d=>gR.append("line").attr("x1",Math.round(x(d))+.5).attr("x2",Math.round(x(d))+.5).attr("y1",yR(70)).attr("y2",yR(30)).attr("stroke","#7a5a90").attr("stroke-opacity",.1));
gR.append("path").attr("d",ln(rsiIdx,rsiVal,yR)).attr("fill","none").attr("stroke","#a233b5").attr("stroke-width",1.3);
[70,30].forEach(v=>gR.append("line").attr("x1",4).attr("x2",RIGHT).attr("y1",yR(v)).attr("y2",yR(v)).attr("stroke","#c9b8cf").attr("stroke-dasharray","4 2"));

// crosshair
svg.append("line").attr("x1",x(crossIdx)).attr("x2",x(crossIdx)).attr("y1",2).attr("y2",846).attr("stroke","#9a9a9a").attr("stroke-dasharray","3 2");

// frames
[[4,RIGHT,496.5],[4,RIGHT,650.5],[4,RIGHT,846.5]].forEach(l=>svg.append("line").attr("x1",l[0]).attr("x2",l[1]).attr("y1",l[2]).attr("y2",l[2]).attr("stroke","#5a5a5a"));
svg.append("line").attr("x1",3.5).attr("x2",3.5).attr("y1",1).attr("y2",868).attr("stroke","#cfd3d8").attr("stroke-width",1.5);
svg.append("line").attr("x1",3).attr("x2",1532).attr("y1",1).attr("y2",1).attr("stroke","#cfd3d8").attr("stroke-width",1.5);

// axes
function styleAxis(g){g.selectAll("text").attr("fill","#777").attr("font-size",12).style("font-family","'Liberation Sans'");
 g.selectAll(".tick line").attr("stroke","#777");g.select(".domain").attr("stroke","#5a5a5a");}
const fmtP=d3.format(".2f"),fmtI=d3.format(".4f");
svg.append("g").attr("transform",`translate(${RIGHT+.5},0)`).call(d3.axisRight(yP).tickValues(priceTicks).tickFormat(d=>d===430?"":fmtP(d)).tickSize(5).tickPadding(2)).call(g=>g.select(".domain").attr("d","M0,2V496")).call(styleAxis);
svg.append("g").attr("transform",`translate(${RIGHT+.5},0)`).call(d3.axisRight(yS).tickValues(stochTicks).tickFormat(fmtI).tickSize(5).tickPadding(2)).call(g=>g.select(".domain").attr("d","M0,497V650")).call(styleAxis);
svg.append("g").attr("transform",`translate(${RIGHT+.5},0)`).call(d3.axisRight(yR).tickValues(rsiTicks).tickFormat(fmtI).tickSize(5).tickPadding(2)).call(g=>g.select(".domain").attr("d","M0,651V850")).call(styleAxis);
svg.append("g").attr("transform","translate(0,846.5)").call(d3.axisBottom(x).tickValues(dayIdx).tickFormat((d,i)=>dayLabels[i]).tickSize(4).tickPadding(2)).call(g=>g.select(".domain").remove()).call(styleAxis).call(g=>g.selectAll("text").attr("font-weight",(d,i)=>/[A-Z]/.test(dayLabels[i])?"bold":"normal"));

// price tags
[[lastPrice,"#6ea588","#fff"],[prevClose,"#555","#fff"]].forEach(t=>{
 svg.append("rect").attr("x",RIGHT-1).attr("y",yP(t[0])-9).attr("width",49).attr("height",18).attr("fill",t[1]);
 svg.append("text").text(fmtP(t[0])).attr("x",1476).attr("y",yP(t[0])+4.5).attr("font-size",12).attr("font-weight","bold").attr("fill",t[2]);});

// crosshair label
svg.append("rect").attr("x",771).attr("y",847).attr("width",118).attr("height",20).attr("fill","#555");
svg.append("text").text(crossLabel).attr("x",830).attr("y",862).attr("text-anchor","middle").attr("font-size",12).attr("font-weight","bold").attr("fill","#e8e8e8");

// header
const T=(s,xx,yy,fs,col,opt={})=>{const t=svg.append("text").text(s).attr("x",xx).attr("y",yy).attr("font-size",fs).attr("fill",col);Object.entries(opt).forEach(([k,v])=>t.attr(k,v));return t;};
svg.append("rect").attr("x",9.5).attr("y",15.5).attr("width",12).attr("height",13).attr("fill","none").attr("stroke","#888");
svg.append("line").attr("x1",12).attr("x2",19).attr("y1",22).attr("y2",22).attr("stroke","#666");
T("Bitcoin / Dollar, 240, BITSTAMP",30,28,18.7,"#555");
const btn=(bx,by,kind)=>{svg.append("rect").attr("x",bx).attr("y",by).attr("width",15).attr("height",15).attr("fill","#dcdcdc").attr("opacity",.75);
 if(kind==="x"){svg.append("path").attr("d",`M${bx+3},${by+3}L${bx+12},${by+12}M${bx+12},${by+3}L${bx+3},${by+12}`).attr("stroke","#fff").attr("stroke-width",1.8);}
 else if(kind==="eye"){svg.append("circle").attr("cx",bx+7.5).attr("cy",by+7.5).attr("r",3.6).attr("fill","none").attr("stroke","#fff").attr("stroke-width",1.6);}
 else {svg.append("circle").attr("cx",bx+7.5).attr("cy",by+7.5).attr("r",3.4).attr("fill","none").attr("stroke","#fff").attr("stroke-width",2.6);}};
const tri=(tx,ty)=>svg.append("path").attr("d",`M${tx},${ty}h7l-3.5,3.5z`).attr("fill","#c4c4c4");
tri(299,21);btn(318,14,"eye");btn(337,14,"gear");
const letterX=[362,421,479,539], valueX=[376,434,491,553];
ohlcLetters.forEach((s,i)=>{T(s,letterX[i],28,12.5,"#666");T(ohlcValues[i],valueX[i],28,12.5,"#e0564a");});
T("MA (100, close)",9,49,12.5,"#777");tri(107,43);btn(124,37,"eye");btn(144,37,"gear");btn(163,37,"x");
T("MA (200, close)",9,71,12.5,"#777");tri(107,65);btn(124,59,"eye");btn(144,59,"gear");btn(163,59,"x");
T("Stoch (14, 3, 3)",9,517,12.5,"#777");tri(105,511);btn(123,506,"eye");btn(142,506,"gear");btn(161,506,"x");
T("RSI (14, close)",9,670,12.5,"#777");tri(103,664);btn(121,659,"eye");btn(140,659,"gear");btn(159,659,"x");

// realtime
svg.append("circle").attr("cx",1391.5).attr("cy",21).attr("r",6.5).attr("fill","#fff").attr("stroke","#f58a2a").attr("stroke-width",2);
T("!",1391.5,25,10,"#f58a2a",{"text-anchor":"middle","font-weight":"bold"});
svg.append("circle").attr("cx",1411).attr("cy",21).attr("r",3.8).attr("fill","#2e8b5f");
T("realtime",1420,25,12,"#3f9070");

// sponsor
T("Sponsored by",52,794,11,"#999",{"font-weight":"bold"});
svg.append("path").attr("d","M32,794.5H50L41,803L51,808H38L26,806Q27,798,32,794.5Z").attr("fill","#3f6fa8");
svg.append("path").attr("d","M25,810H38L48,812L37,819L52,815Q46,825,36,824Q28,823,25,816L33,812Z").attr("fill","#3f6fa8");
T("FXCM",56,816,23.5,"#3f6fa8",{"font-weight":"bold","textLength":79,"lengthAdjust":"spacingAndGlyphs","stroke":"#3f6fa8","stroke-width":.8});

// toolbar
svg.append("rect").attr("x",4).attr("y",867).attr("width",1528).attr("height",23).attr("fill","#e4e7ec");
svg.append("line").attr("x1",0).attr("x2",1532).attr("y1",890.5).attr("y2",890.5).attr("stroke","#cfd3d8");
const bx=[25,67,110,158,207,255,300,345,388,443];
leftButtons.forEach((s,i)=>{T(s,bx[i],883,12,"#888",{"text-anchor":"middle","font-weight":"bold"});
 if(i<9)svg.append("line").attr("x1",(bx[i]+bx[i+1])/2+(i===8?-5:0)).attr("x2",(bx[i]+bx[i+1])/2+(i===8?-5:0)).attr("y1",872).attr("y2",886).attr("stroke","#cfd3d8");});
T("00:07:51",1189,883,12,"#888",{"font-weight":"bold"});
T("(UTC-4)",1243,883,12,"#888");
[[1325,"ext","#888"],[1367,"%","#888"],[1410,"log","#888"],[1460,"auto","#5cb8ee"]].forEach(a=>T(a[1],a[0],883,12,a[2],{"text-anchor":"middle","font-weight":"bold"}));
[1300,1346,1388,1433,1487].forEach(v=>svg.append("line").attr("x1",v).attr("x2",v).attr("y1",872).attr("y2",886).attr("stroke","#cfd3d8"));
svg.append("circle").attr("cx",1508).attr("cy",878.5).attr("r",4.2).attr("fill","none").attr("stroke","#888").attr("stroke-width",2.4);
</script></body></html>
